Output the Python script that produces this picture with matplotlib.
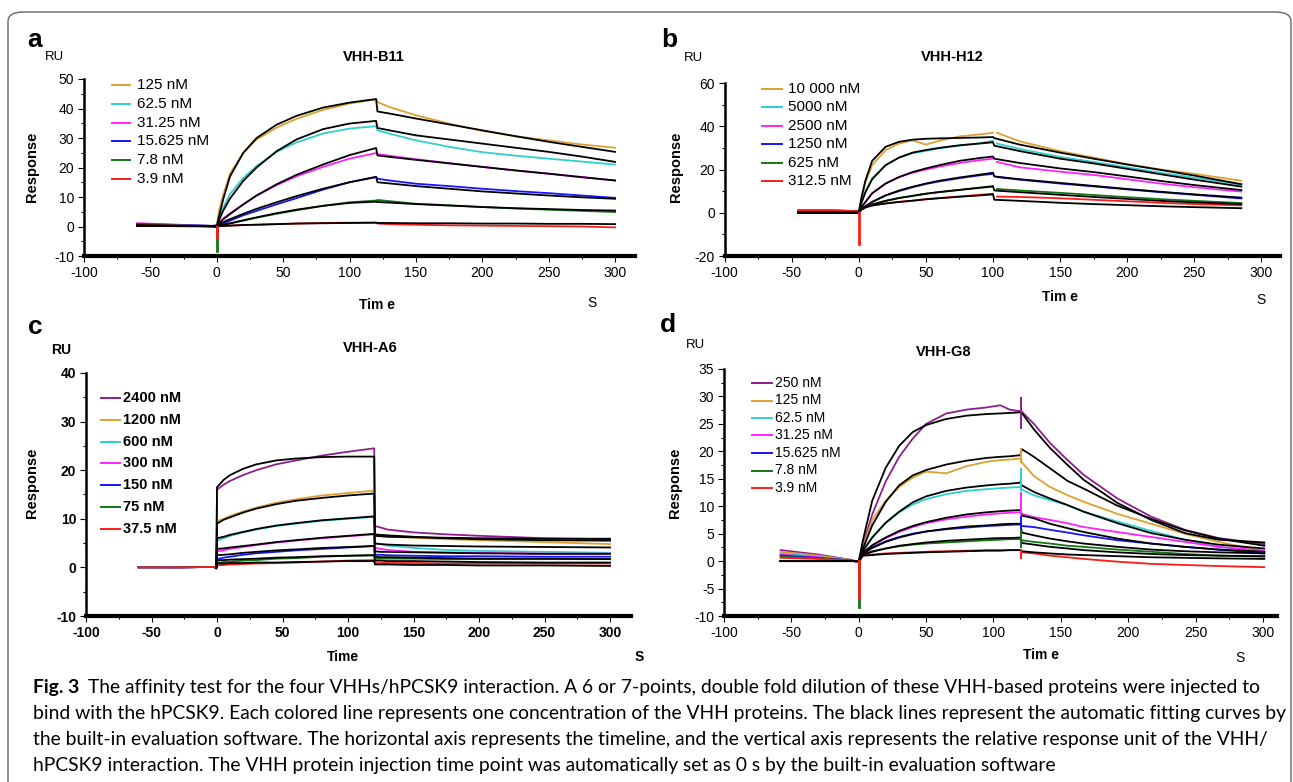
import numpy as np
import matplotlib
matplotlib.use('Agg')
import matplotlib.pyplot as plt
from matplotlib.lines import Line2D
from matplotlib.patches import FancyBboxPatch
from matplotlib.ticker import MultipleLocator

plt.rcParams['font.family'] = ['Liberation Sans', 'DejaVu Sans']
plt.rcParams['axes.unicode_minus'] = False

W, H = 1293, 782
nan = np.nan

GOLD = '#DCA12E'
CYAN = '#2ECFCF'
MAG = '#FF20FF'
BLUE = '#1414FF'
GREEN = '#157515'
RED = '#FF1A1A'
PURPLE = '#8E1E8E'

# ---- panel a : VHH-B11 ----
A_LABELS = ['125 nM', '62.5 nM', '31.25 nM', '15.625 nM', '7.8 nM', '3.9 nM']
A_COLORS = [GOLD, CYAN, MAG, BLUE, GREEN, RED]
A_T = [-60, -30, -3, 0, 2, 5, 10, 20, 30, 45, 60, 80, 100, 120, 121, 130, 150, 175, 200, 225, 250, 275, 300]
A_DATA = [
    [1.0, 0.6, 0.2, 0.5, 6.0, 11.0, 18.0, 25.0, 29.5, 33.5, 36.5, 39.5, 41.7, 43.1, 42.2, 40.5, 37.7, 34.9, 32.4, 30.6, 29.2, 27.8, 26.7],
    [0.9, 0.5, 0.2, 0.5, 3.5, 6.5, 11.0, 16.5, 20.5, 25.3, 28.5, 31.5, 33.2, 34.0, 32.6, 31.5, 29.2, 27.0, 25.2, 24.0, 23.0, 22.0, 21.0],
    [1.1, 0.6, 0.2, 0.5, 1.5, 2.8, 4.5, 7.5, 10.5, 14.0, 17.0, 20.2, 23.0, 24.9, 24.5, 24.0, 22.8, 21.5, 20.2, 19.0, 17.9, 16.8, 15.6],
    [0.8, 0.5, 0.2, 0.3, 0.5, 1.0, 2.0, 3.8, 5.3, 7.5, 9.6, 12.5, 15.0, 16.8, 16.2, 15.6, 14.5, 13.7, 12.8, 12.0, 11.3, 10.5, 9.7],
    [0.5, 0.4, 0.1, 0.0, 0.3, 0.6, 1.0, 2.0, 3.0, 4.3, 5.5, 7.0, 8.2, 8.8, 9.0, 8.6, 7.7, 7.2, 6.6, 6.1, 5.7, 5.3, 4.9],
    [0.5, 0.3, 0.1, 0.0, 0.1, 0.2, 0.3, 0.5, 0.6, 0.8, 1.0, 1.2, 1.3, 1.3, 1.0, 0.8, 0.6, 0.4, 0.3, 0.2, 0.1, 0.0, -0.3],
]
A_FIT = [
    [0.3, 0.2, 0.1, 0.0, 4.0, 9.5, 17.0, 25.0, 30.0, 34.5, 37.5, 40.3, 42.0, 43.2, 39.0, 38.3, 36.6, 34.6, 32.6, 30.6, 28.7, 27.0, 25.3],
    [0.3, 0.2, 0.1, 0.0, 2.5, 5.5, 9.5, 15.5, 20.0, 25.5, 29.5, 33.0, 34.9, 35.8, 33.4, 32.6, 30.9, 29.5, 28.1, 26.7, 25.3, 23.7, 21.9],
    [0.3, 0.2, 0.1, 0.0, 1.2, 2.5, 4.2, 7.5, 10.5, 14.3, 17.5, 21.0, 24.2, 26.6, 24.1, 23.6, 22.6, 21.4, 20.2, 19.0, 17.9, 16.7, 15.6],
    [0.3, 0.2, 0.1, 0.0, 0.7, 1.5, 2.5, 4.3, 6.0, 8.2, 10.3, 12.8, 15.0, 16.8, 15.0, 14.6, 13.7, 12.8, 11.9, 11.2, 10.5, 9.9, 9.4],
    [0.3, 0.2, 0.1, 0.0, 0.3, 0.6, 1.1, 2.1, 3.1, 4.5, 5.7, 7.0, 8.0, 8.4, 8.3, 8.1, 7.6, 7.1, 6.6, 6.2, 5.9, 5.6, 5.4],
    [0.2, 0.1, 0.0, 0.0, 0.1, 0.2, 0.3, 0.5, 0.6, 0.8, 1.0, 1.1, 1.2, 1.3, 1.2, 1.2, 1.1, 1.1, 1.0, 1.0, 0.9, 0.9, 0.8],
]
A_DIP = [(GREEN, -8.2), (RED, -4.0)]

# ---- panel b : VHH-H12 ----
B_LABELS = ['10 000 nM', '5000 nM', '2500 nM', '1250 nM', '625 nM', '312.5 nM']
B_COLORS = [GOLD, CYAN, MAG, BLUE, GREEN, RED]
B_T1 = [-45, -20, -2, 0, 2, 5, 10, 20, 30, 40, 50, 60, 75, 90, 100]
B_T2 = [103, 120, 150, 175, 200, 225, 250, 285]
B_T2_FIT = [101, 120, 150, 175, 200, 225, 250, 285]
B_DATA1 = [
    [1.0, 1.0, 0.8, 0.5, 6.0, 14.0, 22.0, 29.0, 32.0, 33.5, 31.5, 33.3, 35.3, 36.2, 37.0],
    [1.0, 1.0, 0.8, 0.5, 5.0, 10.0, 16.0, 22.0, 25.5, 27.5, 28.6, 29.8, 31.0, 32.2, 33.3],
    [1.0, 1.0, 0.8, 0.5, 2.5, 5.0, 9.0, 13.5, 16.5, 18.5, 20.0, 21.3, 23.0, 24.3, 25.0],
    [1.0, 1.0, 0.8, 0.5, 1.5, 3.0, 5.0, 8.0, 10.0, 11.8, 13.3, 14.5, 16.0, 17.3, 18.0],
    [1.0, 1.0, 0.8, 0.5, 1.5, 2.5, 3.8, 5.5, 6.8, 7.8, 8.8, 9.5, 10.5, 11.5, 12.0],
    [1.0, 1.0, 0.8, 0.3, 2.0, 2.8, 3.5, 4.3, 5.0, 5.5, 6.3, 6.8, 7.5, 8.3, 8.8],
]
B_DATA2 = [
    [37.0, 33.0, 28.5, 25.5, 22.5, 20.0, 18.0, 14.8],
    [32.0, 29.5, 25.8, 23.5, 21.0, 18.5, 16.2, 13.0],
    [23.5, 21.0, 19.0, 17.5, 15.5, 13.5, 11.8, 9.8],
    [16.5, 15.3, 13.5, 12.2, 10.8, 9.5, 8.3, 6.6],
    [11.0, 10.3, 9.2, 8.2, 7.2, 6.3, 5.5, 4.5],
    [7.5, 7.3, 6.7, 6.0, 5.3, 4.6, 4.0, 3.4],
]
B_FIT1 = [
    [0, 0, 0, 0, 7.0, 15.0, 24.0, 30.5, 32.8, 33.8, 34.2, 34.4, 34.6, 34.8, 35.0],
    [0, 0, 0, 0, 4.5, 9.5, 15.5, 22.0, 25.5, 27.8, 29.0, 30.0, 31.2, 32.0, 32.6],
    [0, 0, 0, 0, 2.5, 5.0, 9.0, 13.5, 16.5, 18.8, 20.5, 22.0, 24.0, 25.3, 26.0],
    [0, 0, 0, 0, 1.5, 3.0, 5.0, 8.0, 10.3, 12.0, 13.5, 14.8, 16.3, 17.6, 18.5],
    [0, 0, 0, 0, 1.5, 2.5, 3.8, 5.5, 6.8, 7.8, 8.8, 9.6, 10.6, 11.6, 12.3],
    [0, 0, 0, 0, 1.5, 2.5, 3.3, 4.3, 5.0, 5.6, 6.2, 6.7, 7.4, 8.0, 8.5],
]
B_FIT2 = [
    [34.5, 31.5, 27.8, 25.0, 22.3, 19.8, 17.2, 13.2],
    [31.0, 28.5, 25.0, 22.8, 20.3, 17.8, 15.3, 12.1],
    [25.0, 23.0, 20.5, 18.8, 16.8, 14.7, 12.8, 10.5],
    [16.8, 15.5, 13.8, 12.4, 11.0, 9.7, 8.5, 7.0],
    [10.3, 9.5, 8.3, 7.3, 6.4, 5.5, 4.8, 4.0],
    [6.0, 5.5, 4.6, 4.0, 3.5, 3.0, 2.6, 2.1],
]
B_DIP = [(RED, -14.5)]

# ---- panel c : VHH-A6 ----
C_LABELS = ['2400 nM', '1200 nM', '600 nM', '300 nM', '150 nM', '75 nM', '37.5 nM']
C_COLORS = [PURPLE, GOLD, CYAN, MAG, BLUE, GREEN, RED]
C_T = [-60, -30, -3, -0.5, 0, 5, 10, 20, 30, 45, 60, 80, 100, 120, 120.5, 125, 130, 150, 175, 200, 250, 300]
C_DATA = [
    [0.1, 0.0, 0.1, -0.3, 16.0, 17.0, 17.8, 19.0, 20.0, 21.2, 22.0, 23.0, 23.8, 24.5, 8.5, 8.2, 7.8, 7.2, 6.8, 6.5, 6.0, 5.8],
    [0.1, 0.0, 0.1, 0.0, 9.5, 10.0, 10.6, 11.5, 12.3, 13.3, 14.0, 14.8, 15.3, 15.8, 6.5, 6.5, 6.4, 6.1, 5.8, 5.6, 5.2, 4.8],
    [0.0, 0.0, 0.1, 0.0, 5.5, 6.0, 6.5, 7.2, 7.8, 8.5, 9.0, 9.6, 10.0, 10.4, 5.0, 4.8, 4.5, 4.0, 3.6, 3.4, 3.2, 3.0],
    [0.0, 0.0, 0.1, 0.0, 3.3, 3.5, 3.8, 4.2, 4.6, 5.1, 5.5, 6.0, 6.4, 6.8, 4.0, 3.8, 3.6, 3.2, 3.1, 3.0, 2.8, 2.8],
    [0.0, 0.0, 0.1, 0.0, 1.7, 2.0, 2.2, 2.6, 2.9, 3.2, 3.5, 3.8, 4.1, 4.4, 2.6, 2.6, 2.5, 2.4, 2.3, 2.3, 2.2, 2.2],
    [0.0, 0.0, 0.1, 0.0, 1.0, 1.1, 1.2, 1.4, 1.5, 1.8, 1.9, 2.2, 2.4, 2.5, 1.8, 1.8, 1.8, 1.8, 1.7, 1.7, 1.7, 1.7],
    [0.0, 0.0, 0.1, 0.0, 0.4, 0.5, 0.6, 0.7, 0.8, 0.9, 1.0, 1.2, 1.4, 1.5, 0.9, 0.9, 0.9, 0.9, 0.8, 0.8, 0.8, 0.8],
]
C_FIT = [
    [nan, nan, nan, 0.0, 16.5, 18.0, 19.0, 20.3, 21.2, 22.0, 22.4, 22.7, 22.8, 22.8, 6.5, 6.4, 6.3, 6.2, 6.1, 6.0, 5.9, 5.9],
    [nan, nan, nan, 0.0, 9.0, 9.8, 10.3, 11.3, 12.1, 13.0, 13.7, 14.3, 14.8, 15.2, 6.8, 6.7, 6.6, 6.3, 6.0, 5.8, 5.6, 5.5],
    [nan, nan, nan, 0.0, 6.0, 6.3, 6.7, 7.3, 7.9, 8.6, 9.1, 9.7, 10.1, 10.5, 4.9, 4.8, 4.7, 4.5, 4.4, 4.3, 4.2, 4.1],
    [nan, nan, nan, 0.0, 3.8, 3.9, 4.1, 4.4, 4.7, 5.2, 5.6, 6.1, 6.5, 6.9, 3.3, 3.2, 3.2, 3.1, 3.0, 2.9, 2.8, 2.8],
    [nan, nan, nan, 0.0, 2.5, 2.6, 2.7, 3.0, 3.2, 3.5, 3.7, 4.0, 4.2, 4.4, 2.2, 2.1, 2.1, 2.0, 1.9, 1.8, 1.8, 1.7],
    [nan, nan, nan, 0.0, 1.5, 1.5, 1.6, 1.7, 1.8, 2.0, 2.1, 2.3, 2.4, 2.5, 1.4, 1.4, 1.3, 1.3, 1.2, 1.1, 1.0, 1.0],
    [nan, nan, nan, 0.0, 0.8, 0.8, 0.9, 0.9, 1.0, 1.0, 1.1, 1.2, 1.3, 1.3, 0.6, 0.6, 0.6, 0.5, 0.5, 0.4, 0.4, 0.3],
]

# ---- panel d : VHH-G8 ----
D_LABELS = ['250 nM', '125 nM', '62.5 nM', '31.25 nM', '15.625 nM', '7.8 nM', '3.9 nM']
D_COLORS = [PURPLE, GOLD, CYAN, MAG, BLUE, GREEN, RED]
D_T = [-58, -30, -5, 0, 3, 10, 20, 30, 40, 50, 65, 80, 95, 105, 112, 120, 121, 130, 142, 155, 167, 192, 217, 242, 267, 301]
D_DATA = [
    [2.0, 1.2, 0.2, -0.3, 2.9, 8.5, 14.5, 19.0, 22.3, 25.0, 26.9, 27.6, 28.0, 28.4, 27.6, 27.3, 27.2, 25.0, 21.5, 18.4, 15.7, 11.4, 8.1, 5.7, 4.2, 3.1],
    [1.7, 1.0, 0.2, -0.3, 2.5, 7.5, 11.0, 13.5, 15.2, 16.3, 16.0, 17.3, 18.1, 18.4, 18.5, 18.7, 18.0, 15.5, 13.5, 12.0, 10.8, 8.6, 6.8, 5.0, 3.5, 1.8],
    [1.4, 0.8, 0.1, -0.2, 2.0, 4.3, 6.9, 8.9, 10.3, 11.3, 12.2, 12.8, 13.1, 13.3, 13.4, 13.5, 13.0, 12.0, 11.1, 10.2, 9.0, 7.2, 5.5, 3.9, 2.6, 1.6],
    [1.2, 0.7, 0.1, -0.2, 1.5, 2.8, 4.2, 5.3, 6.2, 6.9, 7.6, 8.1, 8.5, 8.7, 8.8, 8.9, 8.6, 8.0, 7.5, 6.9, 6.2, 5.3, 4.4, 3.5, 2.6, 1.9],
    [1.0, 0.6, 0.1, -0.2, 1.3, 2.5, 3.6, 4.4, 5.0, 5.4, 5.8, 6.1, 6.4, 6.5, 6.6, 6.7, 6.4, 6.2, 5.7, 5.2, 4.7, 3.8, 3.2, 2.6, 2.1, 1.4],
    [0.8, 0.5, 0.1, -0.2, 1.2, 1.8, 2.3, 2.7, 3.0, 3.2, 3.4, 3.6, 3.8, 3.9, 4.0, 4.0, 3.8, 3.5, 3.2, 2.8, 2.6, 2.1, 1.7, 1.3, 1.0, 0.8],
    [0.6, 0.4, 0.1, -0.2, 1.0, 1.2, 1.4, 1.5, 1.6, 1.7, 1.8, 1.9, 2.0, 2.0, 2.0, 2.0, 1.6, 1.4, 1.0, 0.7, 0.4, -0.1, -0.5, -0.7, -0.9, -1.1],
]
D_FIT = [
    [0, 0, 0, 0, 3.7, 11.0, 17.0, 21.0, 23.5, 24.8, 25.9, 26.5, 26.8, 26.9, 27.0, 27.1, 27.0, 24.0, 20.6, 17.5, 14.8, 10.6, 7.5, 5.1, 3.9, 3.4],
    [0, 0, 0, 0, 2.2, 6.5, 10.8, 13.8, 15.6, 16.6, 17.6, 18.3, 18.8, 19.0, 19.1, 19.3, 20.4, 19.0, 16.9, 14.6, 13.2, 10.1, 7.7, 5.6, 4.1, 2.8],
    [0, 0, 0, 0, 1.8, 4.3, 7.0, 9.0, 10.7, 11.8, 12.8, 13.4, 13.8, 14.0, 14.1, 14.3, 13.8, 12.6, 11.4, 10.2, 9.0, 6.9, 5.1, 3.9, 3.0, 2.3],
    [0, 0, 0, 0, 1.5, 2.9, 4.3, 5.5, 6.4, 7.1, 7.9, 8.5, 8.9, 9.1, 9.2, 9.3, 8.3, 7.8, 6.8, 6.0, 5.3, 4.1, 3.2, 2.6, 2.1, 1.7],
    [0, 0, 0, 0, 1.3, 2.4, 3.5, 4.3, 4.9, 5.4, 5.9, 6.3, 6.5, 6.7, 6.8, 6.8, 5.2, 4.7, 4.1, 3.6, 3.2, 2.6, 2.1, 1.8, 1.6, 1.4],
    [0, 0, 0, 0, 1.1, 1.7, 2.3, 2.8, 3.1, 3.4, 3.7, 3.9, 4.1, 4.2, 4.2, 4.3, 3.3, 3.0, 2.6, 2.3, 2.0, 1.6, 1.3, 1.1, 1.0, 0.9],
    [0, 0, 0, 0, 1.0, 1.1, 1.3, 1.4, 1.5, 1.6, 1.7, 1.8, 1.9, 1.9, 2.0, 2.0, 1.8, 1.6, 1.4, 1.2, 1.1, 0.9, 0.7, 0.6, 0.5, 0.4],
]
D_DIP = [(GREEN, -8.3), (RED, -6.5)]
D_SPIKE_LO = [24.3, 18.0, 13.0, 8.5, 6.0, 2.5, 0.5]
D_SPIKE_HI = [29.7, 20.5, 16.8, 12.5, 8.0, 5.5, 2.0]

CAPTION = [
    "The affinity test for the four VHHs/hPCSK9 interaction. A 6 or 7-points, double fold dilution of these VHH-based proteins were injected to",
    "bind with the hPCSK9. Each colored line represents one concentration of the VHH proteins. The black lines represent the automatic fitting curves by",
    "the built-in evaluation software. The horizontal axis represents the timeline, and the vertical axis represents the relative response unit of the VHH/",
    "hPCSK9 interaction. The VHH protein injection time point was automatically set as 0 s by the built-in evaluation software",
]

fig = plt.figure(figsize=(W / 100, H / 100), dpi=100)


def ptext(x, y, s, **kw):
    return fig.text(x / W, 1 - y / H, s, **kw)


def px_axes(x0, y0, x1, y1):
    return fig.add_axes([x0 / W, 1 - y1 / H, (x1 - x0) / W, (y1 - y0) / H])


def style_axes(ax, xlim, ylim, ymaj, ymin, bold=False):
    ax.set_xlim(*xlim)
    ax.set_ylim(*ylim)
    ax.patch.set_alpha(0)
    ax.spines['top'].set_visible(False)
    ax.spines['right'].set_visible(False)
    ax.spines['left'].set_linewidth(1.8)
    ax.spines['bottom'].set_linewidth(3.0)
    ax.xaxis.set_major_locator(MultipleLocator(50))
    ax.xaxis.set_minor_locator(MultipleLocator(25))
    ax.yaxis.set_major_locator(MultipleLocator(ymaj))
    ax.yaxis.set_minor_locator(MultipleLocator(ymin))
    ax.tick_params(which='major', length=4, width=0.8, labelsize=10, pad=3)
    ax.tick_params(which='minor', length=2.5, width=0.8)
    for lab in ax.get_xticklabels() + ax.get_yticklabels():
        lab.set_fontweight('bold' if bold else 'normal')


def legend(labels, colors, hx0, hx1, tx, y0, dy, size, weight='normal'):
    for i, (lab, c) in enumerate(zip(labels, colors)):
        y = y0 + i * dy
        fig.add_artist(Line2D([hx0 / W, hx1 / W], [1 - y / H, 1 - y / H], color=c, lw=1.4))
        ptext(tx, y, lab, fontsize=size, fontweight=weight, va='center', ha='left')


def labels(letter, lxy, ru, title, resp, time_lbl, txy, sxy, bold=False):
    ptext(*lxy, letter, fontsize=19, fontweight='bold', ha='center', va='center')
    ptext(*ru, 'RU', fontsize=9.5, fontweight='bold' if bold else 'normal', ha='center', va='center')
    ptext(*title, title[2], fontsize=10.5, fontweight='bold', ha='center', va='center') if False else None


LW = 1.3

# panel a
ax = px_axes(84, 79, 635, 256)
for vals, c in zip(A_DATA, A_COLORS):
    ax.plot(A_T, vals, color=c, lw=LW)
for vals in A_FIT:
    ax.plot(A_T, vals, color='black', lw=LW)
for c, v in A_DIP:
    ax.plot([0.5, 0.5], [0, v], color=c, lw=2)
style_axes(ax, (-100, 315), (-10, 50), 10, 5)
legend(A_LABELS, A_COLORS, 112, 130, 137, 85, 18.8, 11)

# panel b
ax = px_axes(724.5, 83, 1280, 256)
for v1, v2, c in zip(B_DATA1, B_DATA2, B_COLORS):
    ax.plot(B_T1, v1, color=c, lw=LW)
    ax.plot(B_T2, v2, color=c, lw=LW)
for f1, f2 in zip(B_FIT1, B_FIT2):
    ax.plot(B_T1 + B_T2_FIT, f1 + f2, color='black', lw=LW)
for c, v in B_DIP:
    ax.plot([0.3, 0.3], [0, v], color=c, lw=2)
style_axes(ax, (-100, 313.8), (-20, 60), 20, 10)
legend(B_LABELS, B_COLORS, 762, 782, 788, 89, 18.4, 11)

# panel c
ax = px_axes(86, 373, 631, 616)
for vals, c in zip(C_DATA, C_COLORS):
    ax.plot(C_T, vals, color=c, lw=LW)
for vals in C_FIT:
    ax.plot(C_T, vals, color='black', lw=LW)
style_axes(ax, (-100, 316), (-10, 40), 10, 5, bold=True)
legend(C_LABELS, C_COLORS, 101, 120, 123, 398, 21.8, 10.5, 'bold')

# panel d
ax = px_axes(724, 369, 1277, 616)
for vals, c in zip(D_DATA, D_COLORS):
    ax.plot(D_T, vals, color=c, lw=LW)
for vals in D_FIT:
    ax.plot(D_T, vals, color='black', lw=LW)
for lo, hi, c in zip(D_SPIKE_LO, D_SPIKE_HI, D_COLORS):
    ax.plot([120.5, 120.5], [lo, hi], color=c, lw=1.4)
for c, v in D_DIP:
    ax.plot([0.5, 0.5], [0, v], color=c, lw=2)
style_axes(ax, (-100, 310.4), (-10, 35), 5, 2.5)
legend(D_LABELS, D_COLORS, 752, 772, 775, 383, 17.5, 10)

# panel texts
for letter, x, y in [('a', 35, 40), ('b', 669, 40), ('c', 35, 327), ('d', 668, 325)]:
    ptext(x, y, letter, fontsize=19, fontweight='bold', ha='center', va='center')
for x, y in [(54, 57), (693, 58), (695, 345)]:
    ptext(x, y, 'RU', fontsize=9.5, ha='center', va='center')
ptext(61, 350, 'RU', fontsize=10, fontweight='bold', ha='center', va='center')
for s, x, y in [('VHH-B11', 374, 57), ('VHH-H12', 952, 57), ('VHH-A6', 370, 348), ('VHH-G8', 944, 352)]:
    ptext(x, y, s, fontsize=10.5, fontweight='bold', ha='center', va='center')
for x, y in [(32, 167), (676, 167), (32, 483), (675, 483)]:
    ptext(x, y, 'Response', fontsize=10.5, fontweight='bold', rotation=90, ha='center', va='center')
for s, x, y in [('Tim e', 377, 305), ('Tim e', 1060, 297), ('Time', 343, 657), ('Tim e', 1041, 655)]:
    ptext(x, y, s, fontsize=10, fontweight='bold', ha='center', va='center')
for x, y in [(592, 303), (1261, 300), (1240, 658)]:
    ptext(x, y, 'S', fontsize=10, ha='center', va='center')
ptext(639, 657, 'S', fontsize=10, fontweight='bold', ha='center', va='center')

# caption
cap_font = ['Lato', 'DejaVu Sans']
fig_lbl = ptext(33, 688, 'Fig. 3', fontsize=13, fontweight='bold', family=cap_font, va='center', ha='left')
lines = []
for i, s in enumerate(CAPTION):
    lines.append(ptext(33, 688 + i * 25.7, s, fontsize=13, family=cap_font, va='center', ha='left'))
fig.canvas.draw()
r = fig.canvas.get_renderer()
w2 = lines[1].get_window_extent(r).width
scale = 1252 / w2
for t in lines + [fig_lbl]:
    t.set_fontsize(13 * scale)
fig.canvas.draw()
fw = fig_lbl.get_window_extent(r).width
lines[0].set_x((33 + fw + 9) / W)

# outer frame
frame = FancyBboxPatch((8 / W, -0.1), (1291 - 8) / W, 1 - 12 / H + 0.1,
                       boxstyle='round,pad=0,rounding_size=0.012', transform=fig.transFigure,
                       facecolor='none', edgecolor='#666666', lw=1.0)
fig.add_artist(frame)

fig.savefig('out.png', dpi=100)
